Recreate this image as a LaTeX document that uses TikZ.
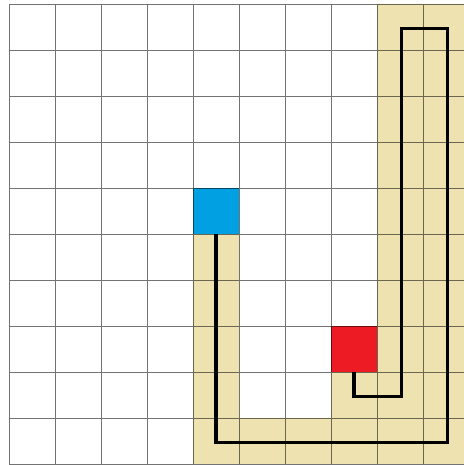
\documentclass[tikz,border=0pt]{standalone}
\usepackage{xcolor}
\usepackage{tikz}
\usetikzlibrary{positioning, calc}
\definecolor{myblue}{RGB}{0,160,227}
\definecolor{myred}{RGB}{237,28,36}
\definecolor{mysand}{RGB}{238,227,176}
\tikzset{
  cell/.style={rectangle, minimum size=1cm, inner sep=0pt, outer sep=0pt},
  gridline/.style={draw=black, draw opacity=0.55, line width=0.5pt},
  route/.style={draw=black, line width=2.2pt, line cap=butt, line join=miter}
}
\begin{document}
\begin{tikzpicture}
  \useasboundingbox (-0.196,-0.022) rectangle (9.870,10.087);

  % Path area
  \fill[mysand] (4,5) -- (4,0) -- (10,0) -- (10,10) -- (8,10) -- (8,2) -- (7,2) -- (7,1) -- (5,1) -- (5,5) -- cycle;

  % Start and goal cells
  \node[cell, fill=myblue] (start) at (4.5,5.5) {};
  \node[cell, fill=myred] (goal) at (7.5,2.5) {};

  % Grid
  \draw[gridline] (0,0) grid (10,10);

  % Route
  \draw[route] (start.south) -- (4.5,0.47) -- (9.53,0.47) -- (9.53,9.47) -- (8.53,9.47) -- (8.53,1.47) -- (7.5,1.47) -- (goal.south);
\end{tikzpicture}
\end{document}
